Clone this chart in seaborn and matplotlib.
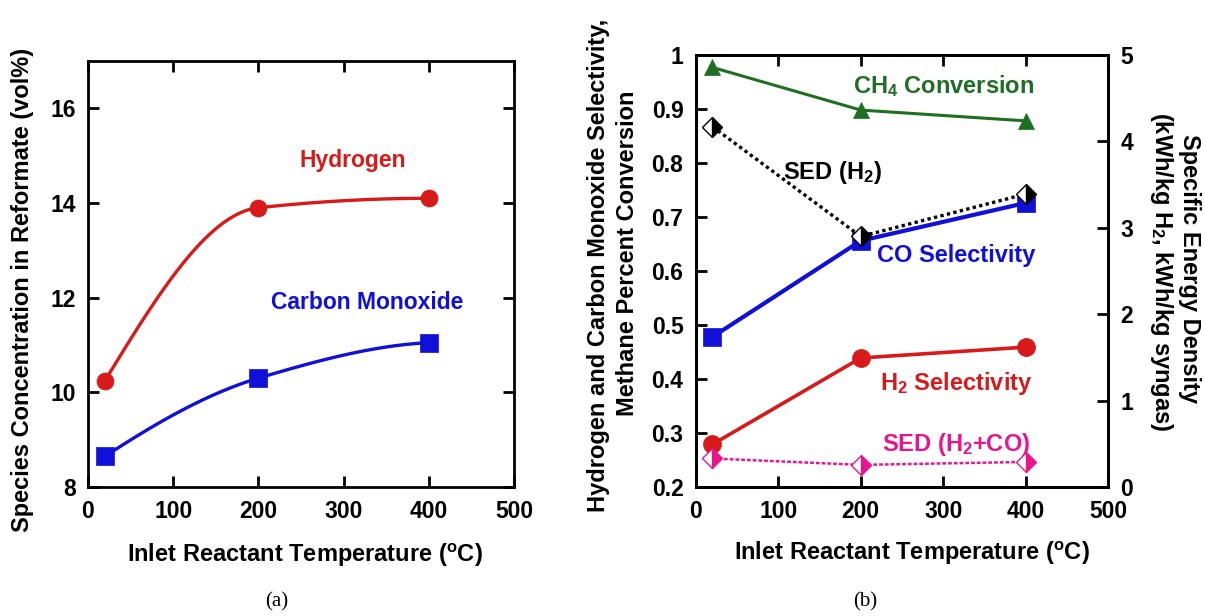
import numpy as np
import matplotlib
matplotlib.use("Agg")
import matplotlib.pyplot as plt
import seaborn as sns
import pandas as pd

# ---------------- data ----------------
temp = [20, 200, 400]

# panel (a)
hydrogen_vol = [10.25, 13.9, 14.1]
co_vol = [8.65, 10.3, 11.05]

# panel (b) left axis
ch4_conv = [0.977, 0.898, 0.878]
co_sel = [0.478, 0.656, 0.726]
h2_sel = [0.279, 0.439, 0.459]
# panel (b) right axis
sed_h2 = [4.17, 2.90, 3.39]
sed_syngas = [0.33, 0.256, 0.29]

x_ticks = [0, 100, 200, 300, 400, 500]
ya_ticks = [8, 10, 12, 14, 16]
yb_ticks = [0.2, 0.3, 0.4, 0.5, 0.6, 0.7, 0.8, 0.9, 1.0]
yb_ticklabels = ["0.2", "0.3", "0.4", "0.5", "0.6", "0.7", "0.8", "0.9", "1"]
yb2_ticks = [0, 1, 2, 3, 4, 5]

RED = "#d81a1a"
BLUE = "#1010d8"
GREEN = "#1f6f22"
PINK = "#e8168c"

sns.set_theme(style="ticks")
plt.rcParams["font.family"] = ["Liberation Sans", "DejaVu Sans"]
plt.rcParams["font.weight"] = "bold"
plt.rcParams["mathtext.fontset"] = "custom"
plt.rcParams["mathtext.rm"] = "Liberation Sans:bold"
plt.rcParams["mathtext.bf"] = "Liberation Sans:bold"
plt.rcParams["mathtext.it"] = "Liberation Sans:bold"
plt.rcParams["mathtext.default"] = "rm"
for key in ("text.color", "axes.labelcolor", "xtick.color", "ytick.color",
            "axes.edgecolor"):
    plt.rcParams[key] = "black"

W, H = 1205, 616


def pchip(x, y, n=200):
    """Monotone cubic (Fritsch-Carlson) curve through the data, for drawing."""
    x = np.asarray(x, float)
    y = np.asarray(y, float)
    h = np.diff(x)
    d = np.diff(y) / h
    m = np.zeros_like(y)
    for k in range(1, len(x) - 1):
        if d[k - 1] * d[k] > 0:
            w1 = 2 * h[k] + h[k - 1]
            w2 = h[k] + 2 * h[k - 1]
            m[k] = (w1 + w2) / (w1 / d[k - 1] + w2 / d[k])

    def end(h0, h1, d0, d1):
        mm = ((2 * h0 + h1) * d0 - h0 * d1) / (h0 + h1)
        if np.sign(mm) != np.sign(d0):
            mm = 0.0
        elif np.sign(d0) != np.sign(d1) and abs(mm) > abs(3 * d0):
            mm = 3 * d0
        return mm

    m[0] = end(h[0], h[1], d[0], d[1])
    m[-1] = end(h[-1], h[-2], d[-1], d[-2])
    xs, ys = [], []
    for k in range(len(x) - 1):
        t = np.linspace(0, 1, n)
        h00 = 2 * t**3 - 3 * t**2 + 1
        h10 = t**3 - 2 * t**2 + t
        h01 = -2 * t**3 + 3 * t**2
        h11 = t**3 - t**2
        xs.append(x[k] + t * h[k])
        ys.append(h00 * y[k] + h10 * h[k] * m[k] + h01 * y[k + 1] + h11 * h[k] * m[k + 1])
    return np.concatenate(xs), np.concatenate(ys)


def px(x, y):
    return x / W, 1 - y / H


fig = plt.figure(figsize=(W / 100, H / 100), dpi=100)

TICK = 16.5
LAB = 17

# ---------------- panel (a) ----------------
axa = fig.add_axes([88 / W, 1 - 487 / H, 426 / W, 426 / H])
for yv, col, mk in [(hydrogen_vol, RED, "o"), (co_vol, BLUE, "s")]:
    cx, cy = pchip(temp, yv)
    axa.plot(cx, cy, color=col, lw=2.4, zorder=2)
    sns.scatterplot(x=temp, y=yv, ax=axa, color=col, marker=mk, s=150,
                    edgecolor=col, linewidth=0.5, zorder=3, legend=False)
axa.set_xlim(0, 500)
axa.set_ylim(8, 17)
axa.set_xticks(x_ticks)
axa.set_yticks(ya_ticks)
axa.tick_params(direction="in", length=8, width=2, top=True, right=True,
                labelsize=TICK, pad=9, colors="black")
for lab in axa.get_xticklabels() + axa.get_yticklabels():
    lab.set_fontweight("bold")
for s in axa.spines.values():
    s.set_linewidth(2)
    s.set_color("black")
axa.set_xlabel("")
axa.set_ylabel("")
fig.text(*px(305, 555), "Inlet Reactant Temperature ($^{o}$C)", fontsize=LAB,
         fontweight="bold", ha="center", va="center", color="black")
fig.text(*px(23, 290), "Species Concentration in Reformate (vol%)", fontsize=LAB,
         fontweight="bold", ha="center", va="center", rotation=90, color="black")
axa.text(311, 14.9, "Hydrogen", color=RED, fontsize=16.5, fontweight="bold",
         ha="center", va="center")
axa.text(328, 11.9, "Carbon Monoxide", color=BLUE, fontsize=16.5,
         fontweight="bold", ha="center", va="center")

# ---------------- panel (b) ----------------
axb = fig.add_axes([696 / W, 1 - 487 / H, 412 / W, 432 / H])
axb2 = axb.twinx()

df = pd.DataFrame({"T": temp, "ch4": ch4_conv, "co": co_sel, "h2": h2_sel,
                   "sedh2": sed_h2, "sedsyn": sed_syngas})

sns.lineplot(data=df, x="T", y="ch4", ax=axb, color=GREEN, lw=2.2, marker="^",
             markersize=12, markeredgecolor=GREEN, markeredgewidth=0.5, zorder=3)
sns.lineplot(data=df, x="T", y="co", ax=axb, color=BLUE, lw=3, marker="s",
             markersize=13, markeredgecolor=BLUE, markeredgewidth=0.5, zorder=3)
sns.lineplot(data=df, x="T", y="h2", ax=axb, color=RED, lw=2.6, marker="o",
             markersize=13, markeredgecolor=RED, markeredgewidth=0.5, zorder=3)

sns.lineplot(data=df, x="T", y="sedh2", ax=axb2, color="black", lw=2.4,
             linestyle=(0, (1, 1)), marker="D", markersize=10, fillstyle="right",
             markerfacecolor="black", markerfacecoloralt="white",
             markeredgecolor="black", markeredgewidth=1, zorder=4)
sns.lineplot(data=df, x="T", y="sedsyn", ax=axb2, color=PINK, lw=1.8,
             linestyle=(0, (1.5, 0.8)), marker="D", markersize=10, fillstyle="right",
             markerfacecolor=PINK, markerfacecoloralt="white",
             markeredgecolor=PINK, markeredgewidth=1, zorder=4)

axb.set_xlim(0, 500)
axb.set_ylim(0.2, 1.0)
axb.set_xticks(x_ticks)
axb.set_yticks(yb_ticks)
axb.set_yticklabels(yb_ticklabels)
axb2.set_ylim(0, 5)
axb2.set_yticks(yb2_ticks)
axb.tick_params(direction="in", length=8, width=2, top=True, right=False,
                labelsize=TICK, pad=9, colors="black")
axb2.tick_params(direction="in", length=8, width=2, labelsize=TICK, pad=9,
                 colors="black")
for lab in (axb.get_xticklabels() + axb.get_yticklabels() + axb2.get_yticklabels()):
    lab.set_fontweight("bold")
for a in (axb, axb2):
    for s in a.spines.values():
        s.set_linewidth(2)
        s.set_color("black")
    a.set_xlabel("")
    a.set_ylabel("")

fig.text(*px(912, 553), "Inlet Reactant Temperature ($^{o}$C)", fontsize=LAB,
         fontweight="bold", ha="center", va="center", color="black")
fig.text(*px(598, 265), "Hydrogen and Carbon Monoxide Selectivity,", fontsize=LAB,
         fontweight="bold", ha="center", va="center", rotation=90, color="black")
fig.text(*px(627, 253), "Methane Percent Conversion", fontsize=LAB,
         fontweight="bold", ha="center", va="center", rotation=90, color="black")
fig.text(*px(1190, 268), "Specific Energy Density", fontsize=LAB,
         fontweight="bold", ha="center", va="center", rotation=270, color="black")
fig.text(*px(1161, 272), "(kWh/kg H$_{2}$, kWh/kg syngas)", fontsize=LAB,
         fontweight="bold", ha="center", va="center", rotation=270, color="black")

axb.text(301, 0.942, "CH$_{4}$ Conversion", color=GREEN, fontsize=LAB,
         fontweight="bold", ha="center", va="center")
axb.text(166, 0.783, "SED (H$_{2}$)", color="black", fontsize=LAB,
         fontweight="bold", ha="center", va="center")
axb.text(316, 0.628, "CO Selectivity", color=BLUE, fontsize=LAB,
         fontweight="bold", ha="center", va="center")
axb.text(316, 0.392, "H$_{2}$ Selectivity", color=RED, fontsize=LAB,
         fontweight="bold", ha="center", va="center")
axb.text(316, 0.279, "SED (H$_{2}$+CO)", color=PINK, fontsize=LAB,
         fontweight="bold", ha="center", va="center")

for a in (axa, axb, axb2):
    a.set_facecolor("white")
    leg = a.get_legend()
    if leg:
        leg.remove()
axb2.set_facecolor((1, 1, 1, 0))

fig.text(*px(277, 602), "(a)", fontsize=15, family="Liberation Serif",
         fontweight="normal", ha="center", va="center", color="black")
fig.text(*px(865, 602), "(b)", fontsize=15, family="Liberation Serif",
         fontweight="normal", ha="center", va="center", color="black")

fig.savefig("out.png", dpi=100, facecolor="white")
